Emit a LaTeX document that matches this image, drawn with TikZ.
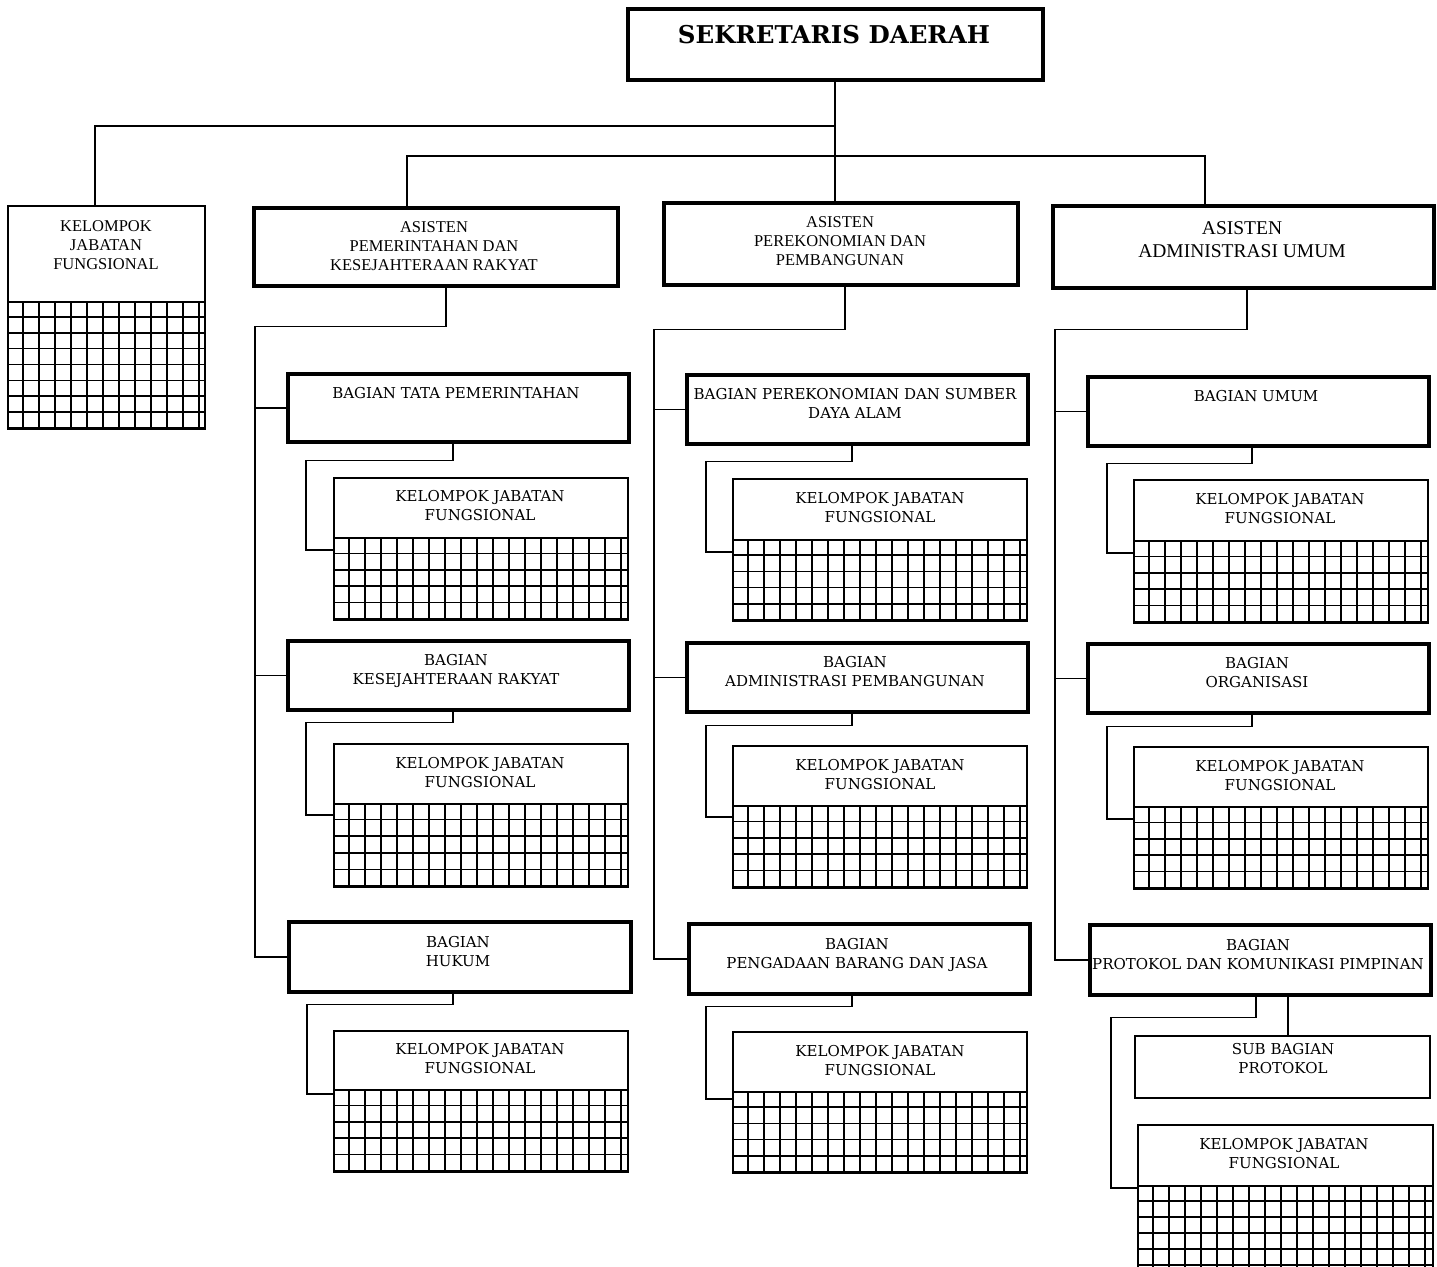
\documentclass[tikz,border=0pt]{standalone}
\usepackage{fontspec}
\setmainfont{DejaVu Serif}
\newfontfamily\timesf{Liberation Serif}
\usetikzlibrary{calc}
\tikzset{
  thickbox/.style={draw, line width=3.5pt, inner sep=0pt, fill=white},
  thinbox/.style={draw, line width=1.8pt, inner sep=0pt},
  conn/.style={line width=1.5pt},
  gridl/.style={line width=1.7pt},
  lbl/.style={anchor=north, inner sep=0pt, align=center, yshift=5.5pt,
    font=\fontsize{15}{19}\selectfont},
  tlbl/.style={anchor=north, inner sep=0pt, align=center, yshift=5.5pt,
    font=\timesf\fontsize{16.5}{19}\selectfont},
}
% box: name, x1, y1, x2, y2, style
\newcommand\bx[6]{\node[#6, anchor=north west, minimum width={#4-#2}, minimum height={#5-#3}] (#1) at (#2,#3) {};}
% kjf box: name, x1, y1, x2, yh, y2
\newcommand\kjfbox[6]{%
  \pgfmathsetmacro\kys{(#6-#5)/max(1,round((#6-#5)/16))}%
  \begin{scope}
    \clip (#2,#5) rectangle (#4,#6);
    \draw[gridl, shift={(#2,#5)}] (0,0) grid[xstep=16pt, ystep=\kys pt] ({#4-#2+16},{#6-#5+16});
  \end{scope}
  \bx{#1}{#2}{#3}{#4}{#6}{thinbox}
  \bx{#1h}{#2}{#3}{#4}{#5}{thinbox}
}
\begin{document}
\begin{tikzpicture}[x=1pt,y=-1pt]
\useasboundingbox (0,0) rectangle (1437,1266);

% top
\bx{sd}{626}{7}{1041}{78}{thickbox}
\node[anchor=north, inner sep=0pt, yshift=8.8pt, font=\bfseries\fontsize{24.5}{28}\selectfont] (tsd) at (834,34) {SEKRETARIS DAERAH};

% left kjf
\kjfbox{lk}{7}{205}{204}{301}{428}
\node[tlbl] (tlk) at (106,226) {KELOMPOK\\JABATAN\\FUNGSIONAL};

% asisten
\bx{ap}{252}{206}{616}{284}{thickbox}
\node[tlbl] (tap) at (434,227) {ASISTEN\\PEMERINTAHAN DAN\\KESEJAHTERAAN RAKYAT};
\bx{ae}{662}{201}{1016}{283}{thickbox}
\node[tlbl] (tae) at (840,222) {ASISTEN\\PEREKONOMIAN DAN\\PEMBANGUNAN};
\bx{aa}{1051}{204}{1432}{286}{thickbox}
\node[anchor=north, inner sep=0pt, align=center, yshift=6.5pt, font=\timesf\fontsize{19.5}{23}\selectfont] (taa) at (1242,228) {ASISTEN\\ADMINISTRASI UMUM};

% top connectors
\coordinate (h1) at (835,126);
\coordinate (h2) at (835,156);
\draw[conn] (sd.south -| h1) -- (h1 |- ae.north);
\draw[conn] (h1) -| ([xshift=-11.5pt]lk.north);
\draw[conn] ([xshift=-29pt]ap.north) |- (h2) -| ([xshift=-38.5pt]aa.north);

% column 1
\bx{bt}{286}{372}{627}{440}{thickbox}
\node[lbl] (tbt) at (456,393) {BAGIAN TATA PEMERINTAHAN};
\kjfbox{ka}{333}{477}{627}{537}{619}
\node[lbl] (tka) at (480,496) {KELOMPOK JABATAN\\FUNGSIONAL};
\bx{bk}{286}{639}{627}{708}{thickbox}
\node[lbl] (tbk) at (456,660) {BAGIAN\\KESEJAHTERAAN RAKYAT};
\kjfbox{kb}{333}{743}{627}{803}{886}
\node[lbl] (tkb) at (480,763) {KELOMPOK JABATAN\\FUNGSIONAL};
\bx{bh}{287}{920}{629}{990}{thickbox}
\node[lbl] (tbh) at (458,942) {BAGIAN\\HUKUM};
\kjfbox{kc}{333}{1030}{627}{1089}{1171}
\node[lbl] (tkc) at (480,1049) {KELOMPOK JABATAN\\FUNGSIONAL};

\draw[conn] ([xshift=10pt]ap.south) -- ++(0,39) -| ([xshift=-32pt]bh.west) -- (bh.west);
\draw[conn] ([xshift=-31pt]bt.west) -- (bt.west);
\draw[conn] ([xshift=-31pt]bk.west) -- (bk.west);
\draw[conn] ([xshift=-5.5pt]bt.south) -- ++(0,17) -| ([xshift=-27pt,yshift=-11pt]kah.south west) -- ([yshift=-11pt]kah.south west);
\draw[conn] ([xshift=-5.5pt]bk.south) -- ++(0,11) -| ([xshift=-27pt,yshift=-10pt]kbh.south west) -- ([yshift=-10pt]kbh.south west);
\draw[conn] ([xshift=-7pt]bh.south) -- ++(0,11) -| ([xshift=-26pt,yshift=-3pt]kch.south west) -- ([yshift=-3pt]kch.south west);

% column 2
\bx{bp}{685}{373}{1026}{442}{thickbox}
\node[lbl] (tbp) at (855,394) {BAGIAN PEREKONOMIAN DAN SUMBER\\DAYA ALAM};
\kjfbox{kd}{732}{478}{1026}{539}{620}
\node[lbl] (tkd) at (880,498) {KELOMPOK JABATAN\\FUNGSIONAL};
\bx{ba}{685}{641}{1026}{710}{thickbox}
\node[lbl] (tba) at (855,662) {BAGIAN\\ADMINISTRASI PEMBANGUNAN};
\kjfbox{ke}{732}{745}{1026}{805}{887}
\node[lbl] (tke) at (880,765) {KELOMPOK JABATAN\\FUNGSIONAL};
\bx{bg}{687}{922}{1028}{992}{thickbox}
\node[lbl] (tbg) at (857,944) {BAGIAN\\PENGADAAN BARANG DAN JASA};
\kjfbox{kf}{732}{1031}{1026}{1091}{1172}
\node[lbl] (tkf) at (880,1051) {KELOMPOK JABATAN\\FUNGSIONAL};

\draw[conn] ([xshift=4pt]ae.south) -- ++(0,43) -| ([xshift=-33pt]bg.west) -- (bg.west);
\draw[conn] ([xshift=-31pt]bp.west) -- (bp.west);
\draw[conn] ([xshift=-31pt]ba.west) -- (ba.west);
\draw[conn] ([xshift=-5.5pt]bp.south) -- ++(0,16) -| ([xshift=-26pt,yshift=-11pt]kdh.south west) -- ([yshift=-11pt]kdh.south west);
\draw[conn] ([xshift=-5.5pt]ba.south) -- ++(0,12) -| ([xshift=-26pt,yshift=-10pt]keh.south west) -- ([yshift=-10pt]keh.south west);
\draw[conn] ([xshift=-7.5pt]bg.south) -- ++(0,11) -| ([xshift=-26pt,yshift=-6pt]kfh.south west) -- ([yshift=-6pt]kfh.south west);

% column 3
\bx{bu}{1086}{375}{1427}{444}{thickbox}
\node[lbl] (tbu) at (1256,396) {BAGIAN UMUM};
\kjfbox{kg}{1133}{479}{1427}{540}{622}
\node[lbl] (tkg) at (1280,499) {KELOMPOK JABATAN\\FUNGSIONAL};
\bx{bo}{1086}{642}{1427}{711}{thickbox}
\node[lbl] (tbo) at (1257,663) {BAGIAN\\ORGANISASI};
\kjfbox{kh}{1133}{746}{1427}{806}{888}
\node[lbl] (tkh) at (1280,766) {KELOMPOK JABATAN\\FUNGSIONAL};
\bx{br}{1088}{923}{1429}{993}{thickbox}
\node[lbl] (tbr) at (1258,945) {BAGIAN\\PROTOKOL DAN KOMUNIKASI PIMPINAN};
\bx{sb}{1134}{1035}{1429}{1097}{thinbox}
\node[lbl] (tsb) at (1283,1049) {SUB BAGIAN\\PROTOKOL};
\kjfbox{ki}{1137}{1124}{1432}{1185}{1281}
\node[lbl] (tki) at (1284,1144) {KELOMPOK JABATAN\\FUNGSIONAL};

\draw[conn] ([xshift=3.5pt]aa.south) -- ++(0,40) -| ([xshift=-33pt]br.west) -- (br.west);
\draw[conn] ([xshift=-31pt]bu.west) -- (bu.west);
\draw[conn] ([xshift=-31pt]bo.west) -- (bo.west);
\draw[conn] ([xshift=-6.5pt]bu.south) -- ++(0,16) -| ([xshift=-26pt,yshift=-11pt]kgh.south west) -- ([yshift=-11pt]kgh.south west);
\draw[conn] ([xshift=-6.5pt]bo.south) -- ++(0,12) -| ([xshift=-26pt,yshift=-11pt]khh.south west) -- ([yshift=-11pt]khh.south west);
\draw[conn] ([xshift=-4.5pt]br.south) -- ++(0,21) -| ([xshift=-26pt,yshift=-1pt]kih.south west) -- ([yshift=-1pt]kih.south west);
\draw[conn] ([xshift=5.5pt]sb.north) -- ([xshift=5.5pt]sb.north |- br.south);
\end{tikzpicture}
\end{document}
